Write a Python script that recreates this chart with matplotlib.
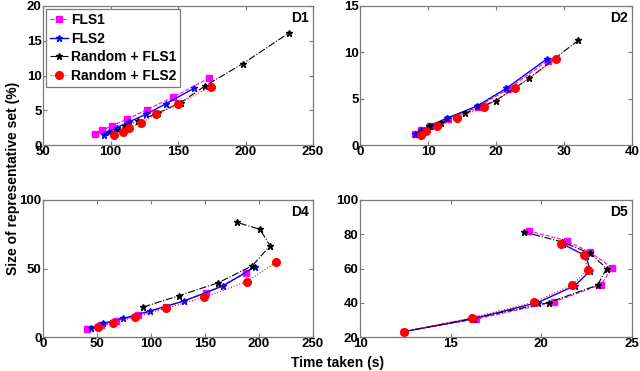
import matplotlib
matplotlib.use("Agg")
import matplotlib.pyplot as plt

plt.rcParams['font.family'] = ['Liberation Sans', 'DejaVu Sans']
plt.rcParams['font.weight'] = 'bold'

series_names = ["FLS1", "FLS2", "Random + FLS1", "Random + FLS2"]

# D1
d1_fls1_x = [88.4, 93.8, 101.4, 112.2, 127.0, 146.5, 172.7]
d1_fls1_y = [1.6, 2.1, 2.8, 3.7, 5.1, 6.9, 9.6]
d1_fls2_x = [95.2, 98.7, 104.8, 113.5, 126.0, 140.8, 162.2]
d1_fls2_y = [1.5, 1.9, 2.5, 3.3, 4.4, 5.9, 8.2]
d1_rf1_x = [103, 111, 120, 135, 152, 170, 198, 232]
d1_rf1_y = [1.9, 2.7, 3.4, 4.6, 6.1, 8.5, 11.7, 16.1]
d1_rf2_x = [102.4, 109.3, 113.5, 122.8, 133.4, 149.9, 174.5]
d1_rf2_y = [1.5, 1.9, 2.5, 3.2, 4.4, 5.9, 8.4]

# D2
d2_fls1_x = [8.1, 9.0, 10.3, 12.9, 17.3, 21.7, 27.6]
d2_fls1_y = [1.2, 1.6, 2.0, 2.8, 4.1, 6.0, 9.1]
d2_fls2_x = [8.1, 9.0, 10.3, 12.8, 17.2, 21.5, 27.5]
d2_fls2_y = [1.2, 1.6, 2.1, 2.9, 4.2, 6.1, 9.3]
d2_rf1_x = [9.0, 10.2, 11.9, 15.4, 20.0, 24.9, 32.1]
d2_rf1_y = [1.4, 2.0, 2.4, 3.4, 4.8, 7.2, 11.3]
d2_rf2_x = [9.0, 9.7, 11.3, 14.2, 18.3, 22.8, 28.8]
d2_rf2_y = [1.1, 1.5, 2.0, 2.9, 4.1, 6.1, 9.3]

# D4
d4_fls1_x = [41, 54, 68, 88, 114, 151, 188]
d4_fls1_y = [5.6, 8.5, 11.5, 16, 22, 32, 46.5]
d4_fls2_x = [44.4, 55.9, 74.4, 99, 130.6, 167, 196.3]
d4_fls2_y = [6.8, 10, 13.6, 19, 26.3, 37.4, 51.3]
d4_rf1_x = [92.9, 126.2, 162.3, 193.8, 210.2, 200.9, 179.3]
d4_rf1_y = [21.9, 30.2, 39.6, 52, 66.6, 78.6, 83.7]
d4_rf2_x = [51.2, 65.1, 85.2, 113.9, 149, 188.6, 215.7]
d4_rf2_y = [7.5, 10.4, 14.6, 20.9, 29, 40.4, 54.5]

# D5
d5_fls1_x = [12.4, 16.4, 20.7, 23.3, 23.9, 22.7, 21.4, 19.3]
d5_fls1_y = [23.1, 30.4, 40.5, 50.6, 60.5, 69.4, 76.2, 81.9]
d5_fls2_x = [12.4, 16.3, 19.8, 21.85, 22.7, 22.45, 21.2]
d5_fls2_y = [23.1, 30.8, 40.1, 50.0, 58.7, 67.4, 74.2]
d5_rf1_x = [12.4, 16.2, 20.4, 23.1, 23.6, 22.7, 21.15, 19.05]
d5_rf1_y = [23.1, 30.8, 40.1, 50.3, 60.0, 68.8, 75.5, 81.3]
d5_rf2_x = [12.4, 16.15, 19.6, 21.7, 22.55, 22.35, 21.1]
d5_rf2_y = [23.1, 31.2, 40.3, 50.3, 59.1, 67.8, 74.5]

styles = [
    dict(color='#FF00FF', linestyle='--', marker='s', markersize=4, linewidth=0.8),
    dict(color='#0000FF', linestyle='-', marker='*', markersize=4.5, linewidth=1.0),
    dict(color='#000000', linestyle='-.', marker='*', markersize=4.5, linewidth=0.8),
    dict(color='#FF0000', linestyle=':', marker='o', markersize=5.5, linewidth=0.8,
         markeredgecolor='#FF0000'),
]

panels = [
    ("D1", [(d1_fls1_x, d1_fls1_y), (d1_fls2_x, d1_fls2_y), (d1_rf1_x, d1_rf1_y), (d1_rf2_x, d1_rf2_y)],
     (50, 250), [50, 100, 150, 200, 250], (0, 20), [0, 5, 10, 15, 20]),
    ("D2", [(d2_fls1_x, d2_fls1_y), (d2_fls2_x, d2_fls2_y), (d2_rf1_x, d2_rf1_y), (d2_rf2_x, d2_rf2_y)],
     (0, 40), [0, 10, 20, 30, 40], (0, 15), [0, 5, 10, 15]),
    ("D4", [(d4_fls1_x, d4_fls1_y), (d4_fls2_x, d4_fls2_y), (d4_rf1_x, d4_rf1_y), (d4_rf2_x, d4_rf2_y)],
     (0, 250), [0, 50, 100, 150, 200, 250], (0, 100), [0, 50, 100]),
    ("D5", [(d5_fls1_x, d5_fls1_y), (d5_fls2_x, d5_fls2_y), (d5_rf1_x, d5_rf1_y), (d5_rf2_x, d5_rf2_y)],
     (10, 25), [10, 15, 20, 25], (20, 100), [20, 40, 60, 80, 100]),
]

rects = [
    [43/640, 1-145/371, 270/640, 139/371],
    [360/640, 1-145/371, 272/640, 139/371],
    [43/640, 1-337/371, 270/640, 137/371],
    [360/640, 1-337/371, 272/640, 137/371],
]

fig = plt.figure(figsize=(6.4, 3.71), dpi=100)
frame_col = '#7a7a7a'
for (name, data, xl, xt, yl, yt), r in zip(panels, rects):
    ax = fig.add_axes(r)
    for (xs, ys), st, lab in zip(data, styles, series_names):
        ax.plot(xs, ys, label=lab, **st)
    ax.set_xlim(*xl)
    ax.set_ylim(*yl)
    ax.set_xticks(xt)
    ax.set_yticks(yt)
    ax.tick_params(direction='in', top=True, right=True, length=3, width=0.8,
                   color=frame_col, labelsize=9.5, pad=1)
    for lbl in ax.get_xticklabels() + ax.get_yticklabels():
        lbl.set_fontweight('bold')
    for sp in ax.spines.values():
        sp.set_color(frame_col)
        sp.set_linewidth(0.9)
    ax.text(0.985, 0.965, name, transform=ax.transAxes, ha='right', va='top',
            fontsize=10, fontweight='bold')
    if name == "D1":
        leg = ax.legend(loc='upper left', fontsize=10, handlelength=1.3,
                        borderaxespad=0.2, borderpad=0.3, labelspacing=0.33,
                        handletextpad=0.2, fancybox=False, framealpha=1,
                        edgecolor=frame_col)
        for t in leg.get_texts():
            t.set_fontweight('bold')
        leg.get_frame().set_linewidth(0.9)

fig.text(0.02, 0.52, "Size of representative set (%)", rotation=90, ha='center',
         va='center', fontsize=10, fontweight='bold')
fig.text(0.527, 0.022, "Time taken (s)", ha='center', va='center', fontsize=10,
         fontweight='bold')

fig.savefig("out.png", dpi=100)
